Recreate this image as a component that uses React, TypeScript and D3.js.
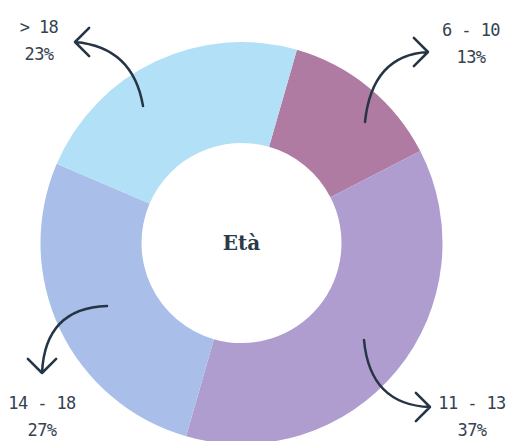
import React, { useRef, useEffect } from 'react';
import * as d3 from 'd3';

// age groups and share (%)
const categories = ['6 - 10', '11 - 13', '14 - 18', '> 18'];
const values = [13, 37, 27, 23];
const colors = ['#b07ba2', '#af9dcf', '#a9bfe9', '#b2e0f6'];

// annotation arrows: tail, control, tip (curved) + label anchor
const arrows = [
  { tail: [365, 122], ctrl: [372, 55], tip: [428, 52], dir: 0, label: [471, 36] },
  { tail: [364, 340], ctrl: [370, 405], tip: [430, 407], dir: 0, label: [472, 409] },
  { tail: [107, 306], ctrl: [45, 308], tip: [42, 373], dir: 90, label: [42, 409] },
  { tail: [143, 106], ctrl: [133, 47], tip: [75, 42], dir: 180, label: [39, 33] },
];

const width = 515;
const height = 441;

const App = () => {
  const ref = useRef<SVGSVGElement>(null);

  useEffect(() => {
    const svg = d3.select(ref.current);
    svg.selectAll('*').remove();

    const cx = 241.5;
    const cy = 243;
    const outer = 201;
    const inner = 100;
    const start = (16 * Math.PI) / 180;

    const pie = d3
      .pie<number>()
      .sort(null)
      .startAngle(start)
      .endAngle(start + 2 * Math.PI);

    const arc = d3.arc<d3.PieArcDatum<number>>().innerRadius(inner).outerRadius(outer);

    const g = svg.append('g').attr('transform', `translate(${cx},${cy})`);
    g.selectAll('path')
      .data(pie(values))
      .enter()
      .append('path')
      .attr('d', arc)
      .attr('fill', (d, i) => colors[i]);

    g.append('text')
      .attr('text-anchor', 'middle')
      .attr('dy', '0.35em')
      .attr('font-family', 'DejaVu Serif')
      .attr('font-weight', 'bold')
      .attr('font-size', 20)
      .attr('fill', '#2b3a47')
      .text('Età');

    // arrows + labels
    arrows.forEach((a, i) => {
      const p = d3.path();
      p.moveTo(a.tail[0], a.tail[1]);
      p.quadraticCurveTo(a.ctrl[0], a.ctrl[1], a.tip[0], a.tip[1]);
      const rad = (a.dir * Math.PI) / 180;
      const len = 20;
      [135, -135].forEach((off) => {
        const r = rad + (off * Math.PI) / 180;
        p.moveTo(a.tip[0] + len * Math.cos(r), a.tip[1] + len * Math.sin(r));
        p.lineTo(a.tip[0], a.tip[1]);
      });
      svg
        .append('path')
        .attr('d', p.toString())
        .attr('fill', 'none')
        .attr('stroke', '#263545')
        .attr('stroke-width', 2.5)
        .attr('stroke-linecap', 'round')
        .attr('stroke-linejoin', 'round');

      const t = svg
        .append('text')
        .attr('text-anchor', 'middle')
        .attr('font-family', 'DejaVu Sans Mono')
        .attr('font-size', 17)
        .attr('letter-spacing', -0.6)
        .attr('fill', '#34434f');
      t.append('tspan').attr('x', a.label[0]).attr('y', a.label[1]).text(categories[i]);
      t.append('tspan')
        .attr('x', a.label[0])
        .attr('y', a.label[1] + 27)
        .text(`${values[i]}%`);
    });
  }, []);

  return (
    <svg
      ref={ref}
      width={width}
      height={height}
      style={{ position: 'absolute', top: 0, left: 0, background: '#fff' }}
    />
  );
};

export default App;
